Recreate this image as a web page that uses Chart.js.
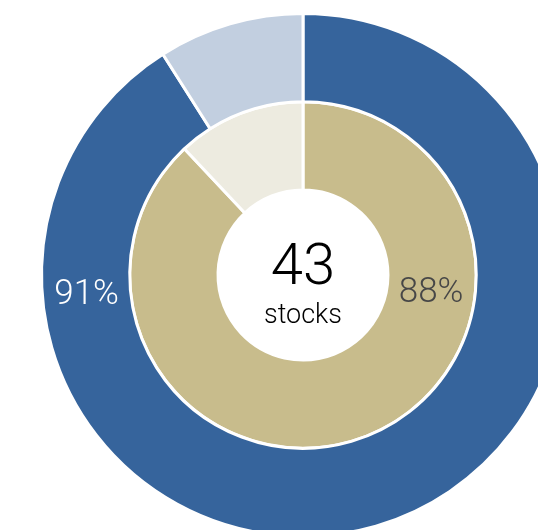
<!DOCTYPE html>
<html>
<head>
<meta charset="utf-8">
<script src="https://cdn.jsdelivr.net/npm/chart.js@4.4.1/dist/chart.umd.min.js"></script>
<style>
  html, body { margin: 0; padding: 0; background: #fff; overflow: hidden; }
  #wrap { position: absolute; left: 0; top: 0; width: 606px; height: 550px; }
</style>
</head>
<body>
<div id="wrap"><canvas id="chart" width="606" height="550"></canvas></div>
<script>
// outer ring (dataset 0) and inner ring (dataset 1)
const outerValues = [91, 9];
const outerColors = ['#36649c', '#c2cfe0'];
const innerValues = [88, 12];
const innerColors = ['#c8bc8c', '#edebe0'];
const outerLabel = '91%';
const innerLabel = '88%';
const centerCount = '43';
const centerUnit = 'stocks';

const labelsPlugin = {
    id: 'ringLabels',
    afterDraw(chart) {
        const ctx = chart.ctx;
        const outerArc = chart.getDatasetMeta(0).data[0];
        const innerArc = chart.getDatasetMeta(1).data[0];
        const cx = outerArc.x, cy = outerArc.y;

        // white hole
        ctx.save();
        ctx.fillStyle = '#fff';
        ctx.beginPath();
        ctx.arc(cx, cy, innerArc.innerRadius, 0, Math.PI * 2);
        ctx.fill();

        ctx.textAlign = 'center';
        ctx.textBaseline = 'middle';
        ctx.font = '300 35px Roboto';

        // outer ring label on the left
        const rOut = (outerArc.innerRadius + outerArc.outerRadius) / 2;
        ctx.fillStyle = '#ffffff';
        ctx.fillText(outerLabel, cx - rOut + 1, cy + 20);

        // inner ring label on the right
        const rIn = (innerArc.innerRadius + innerArc.outerRadius) / 2;
        ctx.fillStyle = '#474747';
        ctx.fillText(innerLabel, cx + rIn - 1, cy + 18);

        // center text
        ctx.fillStyle = '#000';
        ctx.font = '300 58px Roboto';
        ctx.fillText(centerCount, cx, cy - 6);
        ctx.font = '300 27px Roboto';
        ctx.fillText(centerUnit, cx, cy + 41);
        ctx.restore();
    }
};

new Chart(document.getElementById('chart'), {
    type: 'doughnut',
    data: {
        labels: ['in', 'out'],
        datasets: [
            {
                data: outerValues,
                backgroundColor: outerColors,
                borderColor: '#fff',
                borderWidth: 3
            },
            {
                data: innerValues,
                backgroundColor: innerColors,
                borderColor: '#fff',
                borderWidth: 3
            }
        ]
    },
    options: {
        responsive: false,
        animation: false,
        cutout: '32.5%',
        layout: { padding: 12 },
        plugins: {
            legend: { display: false },
            tooltip: { enabled: false }
        }
    },
    plugins: [labelsPlugin]
});
</script>
</body>
</html>
